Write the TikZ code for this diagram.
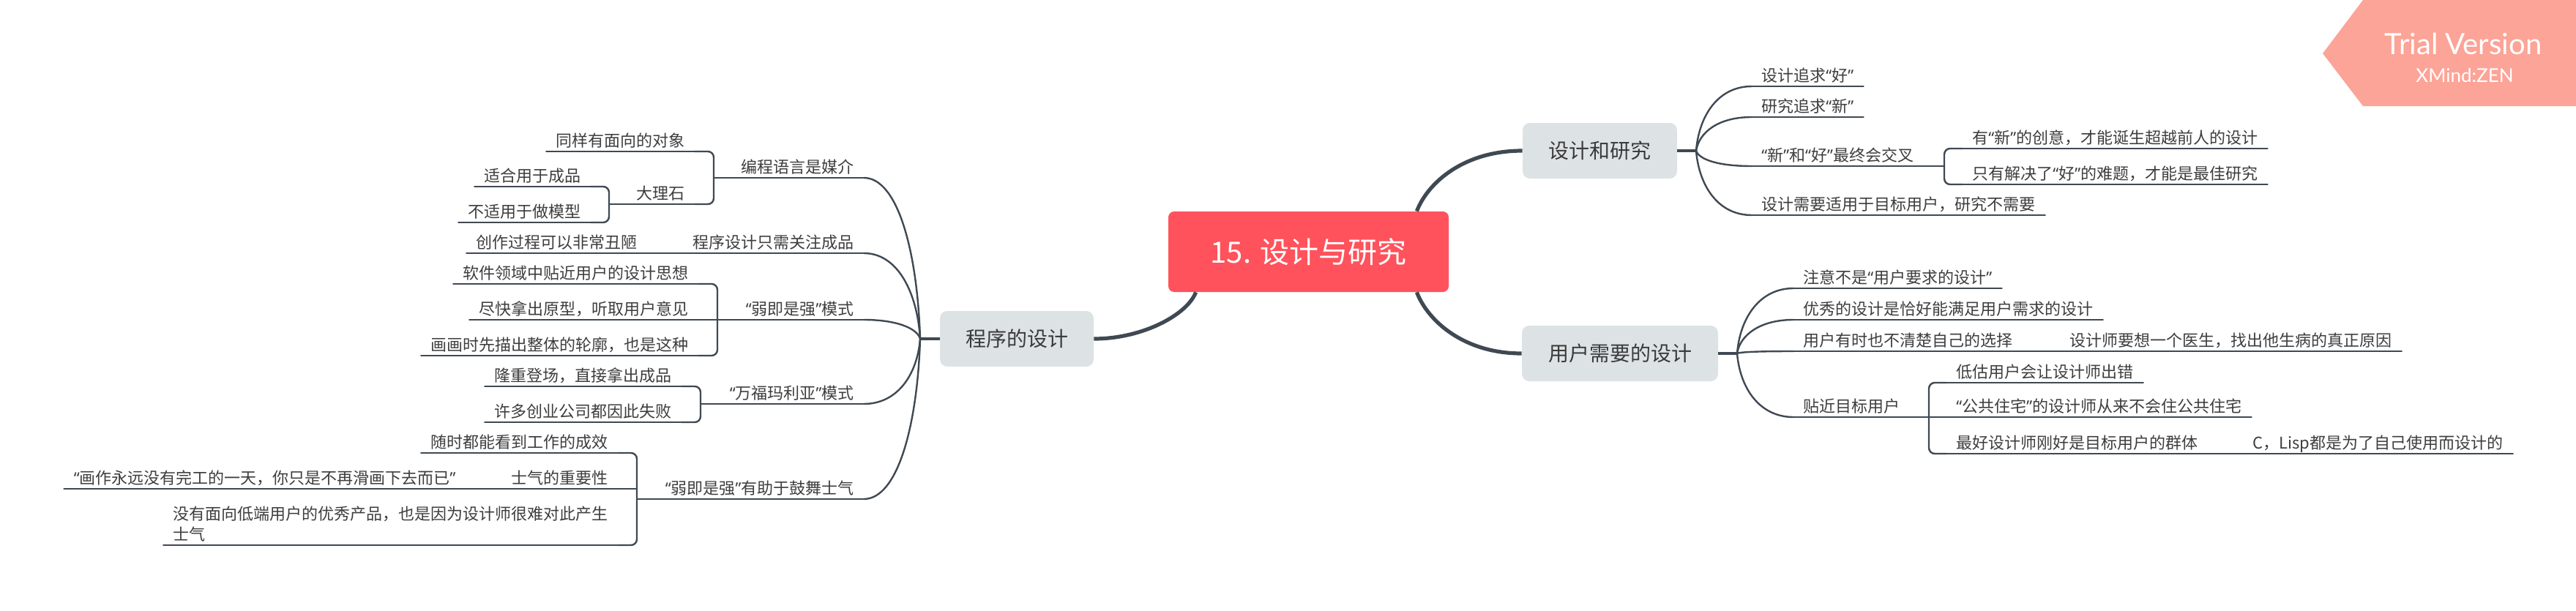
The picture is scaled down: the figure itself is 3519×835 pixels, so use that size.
\documentclass[tikz,border=0pt]{standalone}
\usepackage{fontspec}
\newfontfamily\cjk{Noto Sans CJK SC}
\newfontfamily\qfont{Noto Sans}
\newfontfamily\latofont{Lato}
\newcommand\myoq{{\qfont “}}
\newcommand\mycq{{\qfont ”}}
\usetikzlibrary{calc}
\definecolor{linec}{HTML}{3F4953}
\definecolor{textc}{HTML}{3D3D3D}
\definecolor{topictext}{HTML}{3A3A3A}
\definecolor{nodegray}{HTML}{DDE3E5}
\definecolor{centralred}{HTML}{FF525C}
\definecolor{bannerc}{HTML}{FCA497}
\begin{document}
\begin{tikzpicture}[x=0.5pt,y=-0.5pt,
  leaf/.style={font=\cjk\fontsize{11}{14}\selectfont, text=textc, inner xsep=6.5pt, inner ysep=0pt, text height=9.5pt, text depth=3.3pt},
  lr/.style={leaf, anchor=south west},
  ll/.style={leaf, anchor=south east},
  uline/.style={draw=linec, line width=1.2pt, line cap=round},
  br/.style={draw=linec, line width=1.2pt, line cap=round},
  brk/.style={draw=linec, line width=1.2pt, rounded corners=4pt, line cap=round},
  stub/.style={draw=linec, line width=2pt},
  mainbr/.style={draw=linec, line width=2.6pt},
  topic/.style={font=\cjk\fontsize{14}{16}\selectfont, fill=nodegray, text=topictext, rounded corners=5pt, minimum height=38pt, inner sep=0pt},
  centraltopic/.style={font=\cjk\fontsize{20}{24}\selectfont, fill=centralred, text=white, rounded corners=4pt, minimum width=191.5pt, minimum height=55pt, inner sep=0pt}
]
\path[use as bounding box] (0,0) rectangle (3519,835);

% banner
\fill[bannerc] (3173,73) -- (3228,0) -- (3519,0) -- (3519,145) -- (3228,145) -- cycle;
\node[font=\latofont\fontsize{20}{22}\selectfont, text=white] (trial) at (3365,60) {Trial Version};
\node[font=\latofont\fontsize{13}{15}\selectfont, text=white] (xmz) at (3367,103) {XMind:ZEN};

% topics
\node[centraltopic] (central) at (1787.5,344) {15. 设计与研究};
\node[topic, minimum width=105.5pt] (design) at (2185.5,206) {设计和研究};
\node[topic, minimum width=134pt] (user) at (2213,483) {用户需要的设计};
\node[topic, minimum width=105pt] (prog) at (1389,463) {程序的设计};

\coordinate (jR) at (2317,206);
\coordinate (jU) at (2373,483);
\coordinate (jL) at (1257,463);

% main branches
\draw[mainbr] ($(central.north east)+(-44,0)$) .. controls +(15,-39) and +(-80,0) .. (design.west);
\draw[mainbr] ($(central.south east)+(-44,0)$) .. controls +(15,39) and +(-79,0) .. (user.west);
\draw[mainbr] ($(central.south west)+(38,0)$) .. controls +(-12,31) and +(66,0) .. (prog.east);
\draw[stub] (design.east) -- (jR);
\draw[stub] (user.east) -- (jU);
\draw[stub] (prog.west) -- (jL);

% right: design
\node[lr] (r1) at (2393,118) {设计追求\myoq 好\mycq};
\node[lr] (r2) at (2393,160) {研究追求\myoq 新\mycq};
\node[lr] (r3) at (2393,227) {\myoq 新\mycq 和\myoq 好\mycq 最终会交叉};
\node[lr] (r3a) at (2681,203) {有\myoq 新\mycq 的创意，才能诞生超越前人的设计};
\node[lr] (r3b) at (2681,252) {只有解决了\myoq 好\mycq 的难题，才能是最佳研究};
\node[lr] (r4) at (2393,294) {设计需要适用于目标用户，研究不需要};
\coordinate (jr3) at (2656,227);

\draw[br] (jR) .. controls +(4,-48) and +(-46,0) .. (r1.south west);
\draw[br] (jR) .. controls +(4,-25) and +(-46,0) .. (r2.south west);
\draw[br] (jR) .. controls +(4,12) and +(-46,0) .. (r3.south west);
\draw[br] (jR) .. controls +(4,48) and +(-46,0) .. (r4.south west);
\draw[br] (r3.south east) -- (jr3);
\draw[brk] (r3a.south west) -| (jr3) |- (r3b.south west);

% right: user
\node[lr] (u1) at (2450,394) {注意不是\myoq 用户要求的设计\mycq};
\node[lr] (u2) at (2450,437) {优秀的设计是恰好能满足用户需求的设计};
\node[lr] (u3) at (2450,480) {用户有时也不清楚自己的选择};
\node[lr] (u3a) at (2814,480) {设计师要想一个医生，找出他生病的真正原因};
\node[lr] (u4) at (2450,570) {贴近目标用户};
\node[lr] (u4a) at (2659,523) {低估用户会让设计师出错};
\node[lr] (u4b) at (2659,570) {\myoq 公共住宅\mycq 的设计师从来不会住公共住宅};
\node[lr] (u4c) at (2659,620) {最好设计师刚好是目标用户的群体};
\node[lr] (u4c1) at (3064,620) {C，Lisp都是为了自己使用而设计的};
\coordinate (ju4) at (2635,570);

\draw[br] (jU) .. controls +(4,-49) and +(-46,0) .. (u1.south west);
\draw[br] (jU) .. controls +(4,-25) and +(-46,0) .. (u2.south west);
\draw[br] (jU) .. controls +(4,-2) and +(-46,0) .. (u3.south west);
\draw[br] (jU) .. controls +(4,48) and +(-46,0) .. (u4.south west);
\draw[br] (u3.south east) -- (u3a.south west);
\draw[br] (u4.south east) -- (u4b.south west);
\draw[brk] (u4a.south west) -| (ju4) |- (u4c.south west);
\draw[br] (u4c.south east) -- (u4c1.south west);

% left: program
\node[ll] (l1) at (1180,243) {编程语言是媒介};
\node[ll] (l1a) at (949,207) {同样有面向的对象};
\node[ll] (l1b) at (949,279) {大理石};
\node[ll] (l1b1) at (807,255) {适合用于成品};
\node[ll] (l1b2) at (807,304) {不适用于做模型};
\node[ll] (l2) at (1180,346) {程序设计只需关注成品};
\node[ll] (l2a) at (884,346) {创作过程可以非常丑陋};
\node[ll] (l3) at (1180,437) {\myoq 弱即是强\mycq 模式};
\node[ll] (l3a) at (954,388) {软件领域中贴近用户的设计思想};
\node[ll] (l3b) at (954,437) {尽快拿出原型，听取用户意见};
\node[ll] (l3c) at (954,486) {画画时先描出整体的轮廓，也是这种};
\node[ll] (l4) at (1180,552) {\myoq 万福玛利亚\mycq 模式};
\node[ll] (l4a) at (931,528) {隆重登场，直接拿出成品};
\node[ll] (l4b) at (931,577) {许多创业公司都因此失败};
\node[ll] (l5) at (1180,682) {\myoq 弱即是强\mycq 有助于鼓舞士气};
\node[ll] (l5a) at (844,619) {随时都能看到工作的成效};
\node[ll] (l5b) at (844,668) {士气的重要性};
\node[ll] (l5b1) at (636,668) {\myoq 画作永远没有完工的一天，你只是不再滑画下去而已\mycq};
\node[font=\cjk\fontsize{11}{14}\selectfont, text=textc, inner xsep=6.5pt, inner ysep=0pt, text depth=3.3pt, align=left, anchor=south east] (l5c) at (844,745) {没有面向低端用户的优秀产品，也是因为设计师很难对此产生\\士气};

\coordinate (jl1) at (975,243);
\coordinate (jl1b) at (832,279);
\coordinate (jl3) at (980,437);
\coordinate (jl4) at (957,552);
\coordinate (jl5) at (870,682);
\coordinate (jl5b) at (870,668);

\draw[br] (jL) .. controls +(-4,-121) and +(46,0) .. (l1.south east);
\draw[br] (jL) .. controls +(-4,-64) and +(46,0) .. (l2.south east);
\draw[br] (jL) .. controls +(-4,-14) and +(46,0) .. (l3.south east);
\draw[br] (jL) .. controls +(-4,49) and +(46,0) .. (l4.south east);
\draw[br] (jL) .. controls +(-4,120) and +(46,0) .. (l5.south east);

\draw[br] (l1.south west) -- (jl1);
\draw[brk] (l1a.south east) -| (jl1) |- (l1b.south east);
\draw[br] (l1b.south west) -- (jl1b);
\draw[brk] (l1b1.south east) -| (jl1b) |- (l1b2.south east);
\draw[br] (l2.south west) -- (l2a.south east);
\draw[br] (l3.south west) -- (l3b.south east);
\draw[brk] (l3a.south east) -| (jl3) |- (l3c.south east);
\draw[br] (l4.south west) -- (jl4);
\draw[brk] (l4a.south east) -| (jl4) |- (l4b.south east);
\draw[br] (l5.south west) -- (jl5);
\draw[brk] (l5a.south east) -| (jl5) |- (l5c.south east);
\draw[br] (l5b.south east) -- (jl5b);
\draw[br] (l5b.south west) -- (l5b1.south east);

% underlines
\foreach \n in {r1,r2,r3,r3a,r3b,r4,u1,u2,u3,u3a,u4,u4a,u4b,u4c,u4c1,l1,l1a,l1b,l1b1,l1b2,l2,l2a,l3,l3a,l3b,l3c,l4,l4a,l4b,l5,l5a,l5b,l5b1,l5c}
  \draw[uline] (\n.south west) -- (\n.south east);
\end{tikzpicture}
\end{document}
